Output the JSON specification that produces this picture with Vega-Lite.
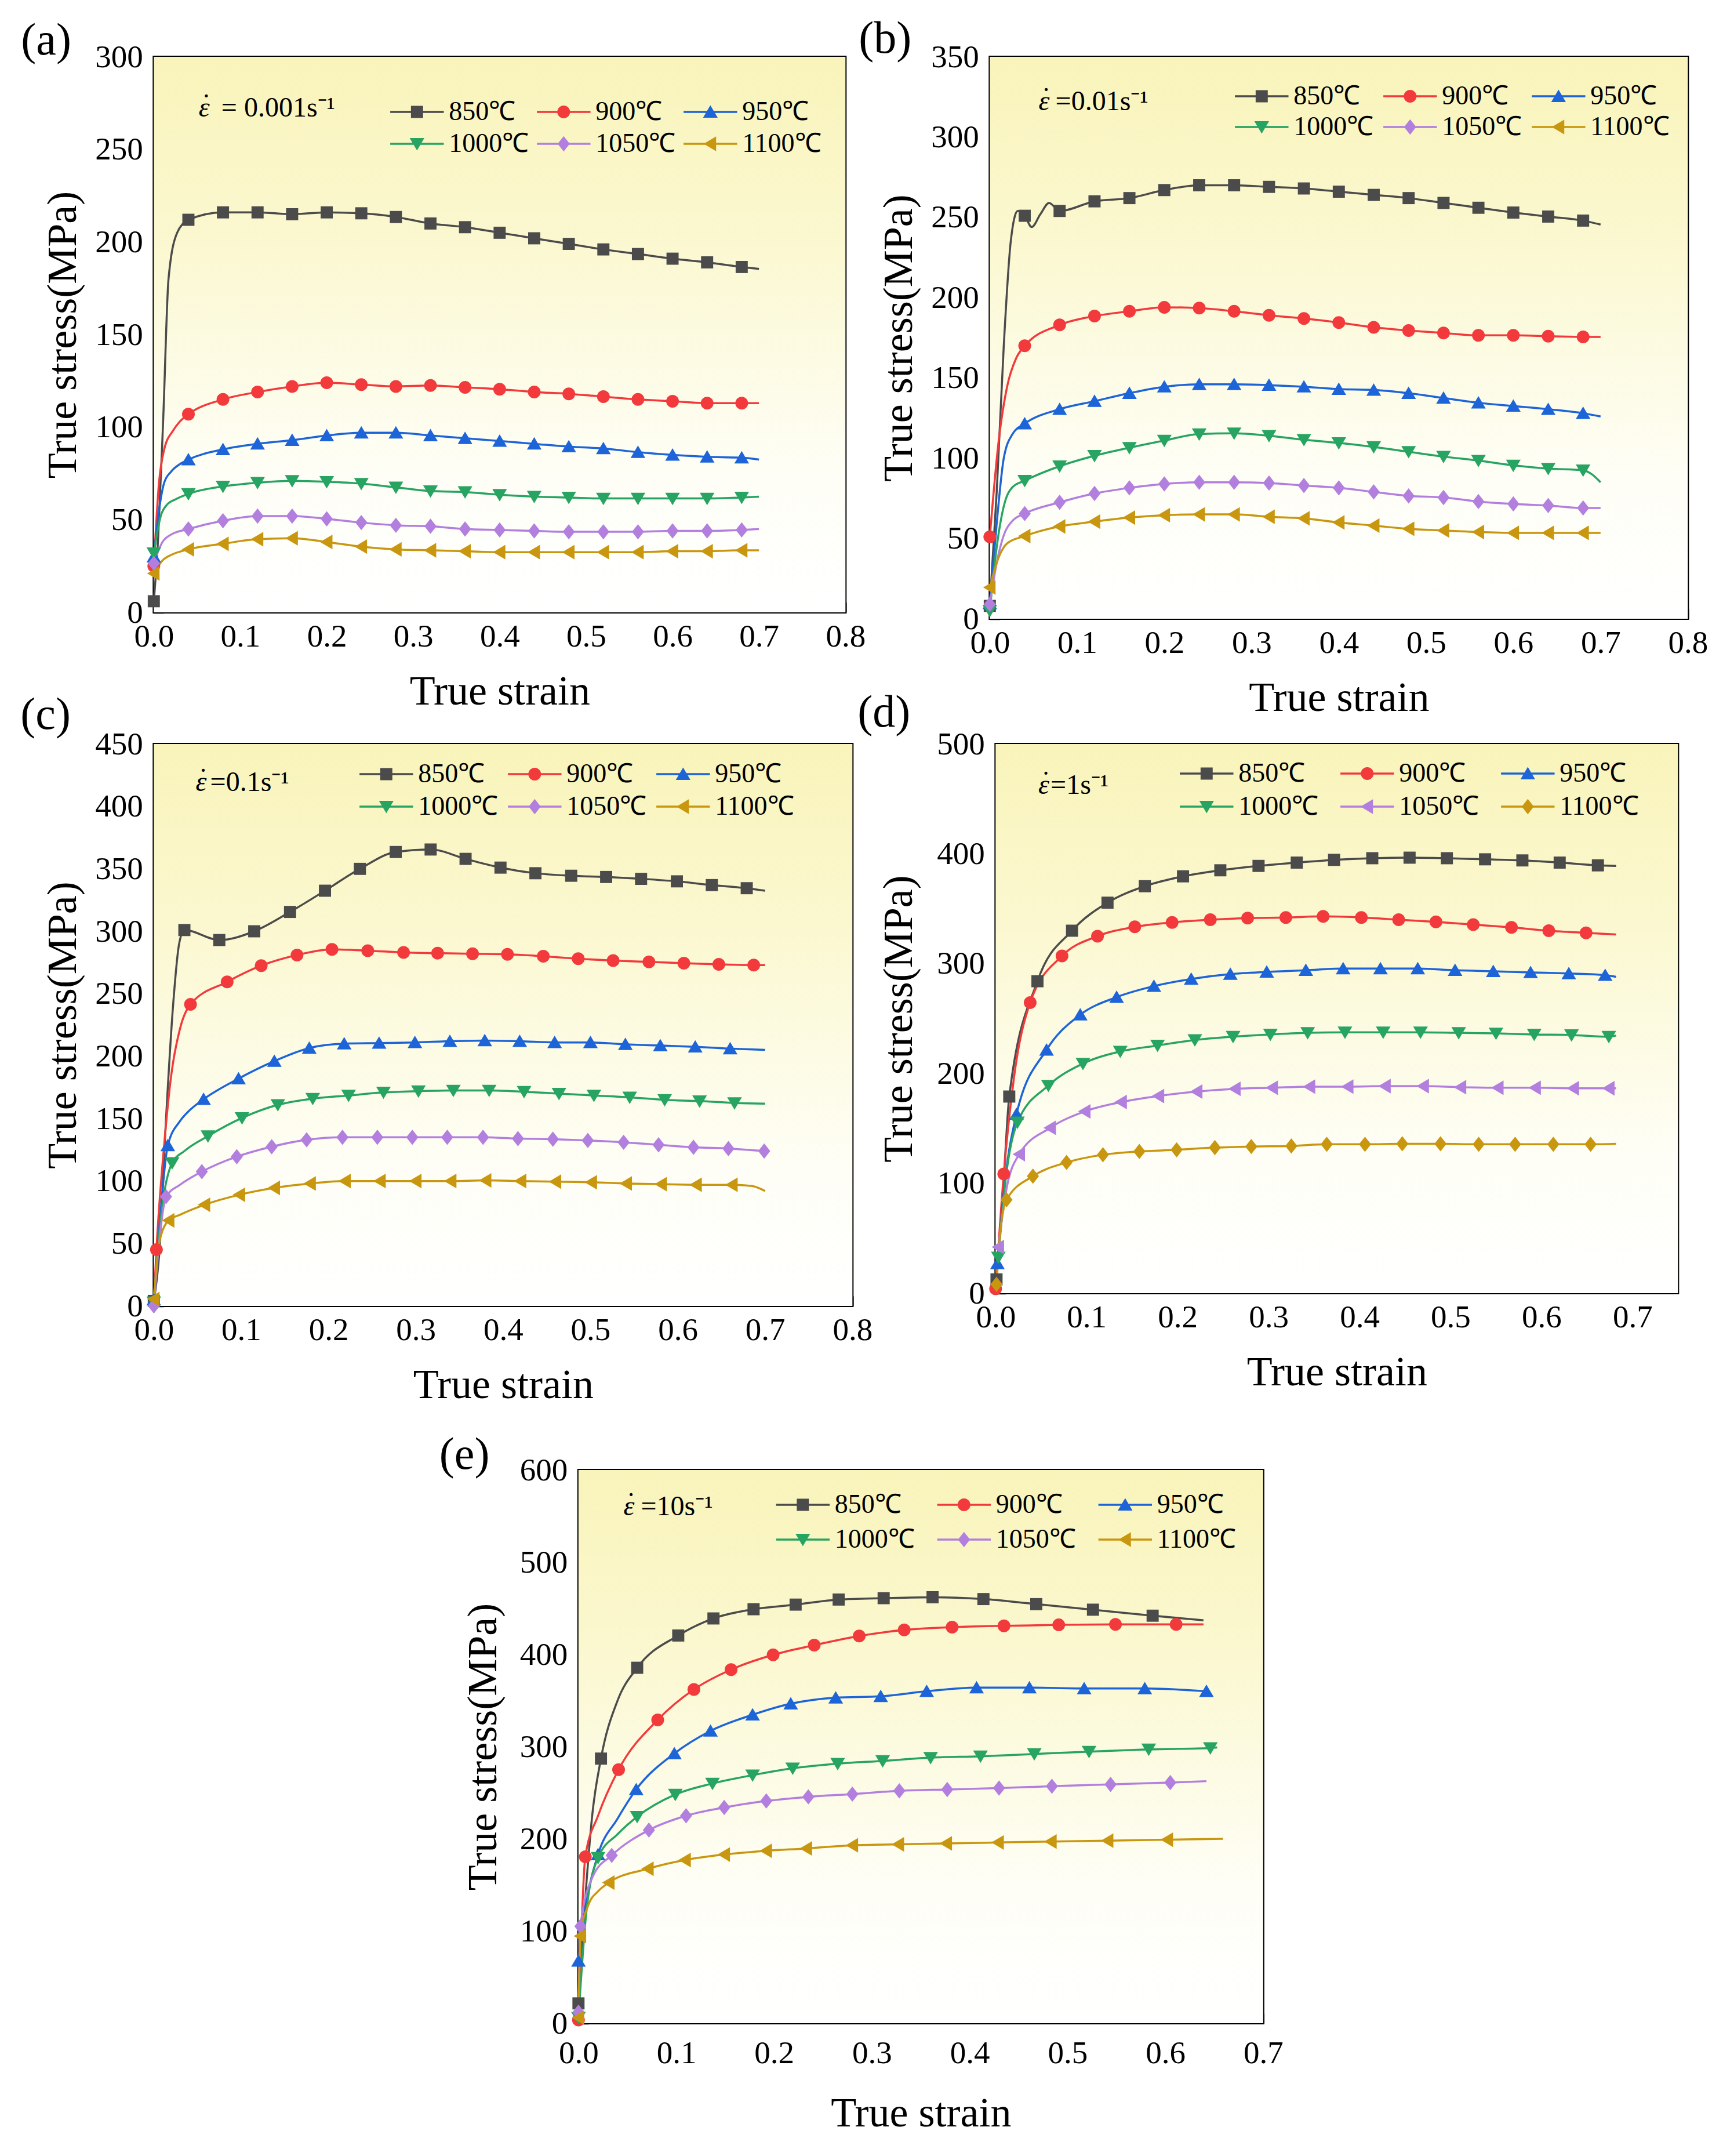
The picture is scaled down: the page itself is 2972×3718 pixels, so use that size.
{
  "$schema": "https://vega.github.io/schema/vega-lite/v6.json",
  "background": "white",
  "padding": {"left": 33, "top": 27, "right": 10, "bottom": 10},
  "config": {
    "font": "Liberation Serif",
    "view": {"stroke": "#000000", "strokeWidth": 4},
    "axis": {
      "grid": false, "domain": false, "tickColor": "#000000", "tickWidth": 3.5, "tickSize": -17,
      "labelFont": "Liberation Serif", "labelFontSize": 55, "labelColor": "#000000",
      "labelFlush": false, "labelOverlap": false,
      "titleFont": "Liberation Serif", "titleFontSize": 72, "titleFontWeight": "normal", "titleColor": "#000000"
    },
    "axisX": {"labelPadding": 32, "titlePadding": 32},
    "axisY": {"labelPadding": 36, "titlePadding": 18},
    "legend": {
      "direction": "horizontal",
      "labelFont": "Liberation Serif", "labelFontSize": 46, "labelColor": "#000000", "labelLimit": 500,
      "symbolSize": 484, "symbolOffset": 35, "labelOffset": 32, "padding": 0, "gridAlign": "all",
      "symbolStrokeWidth": 0, "labelBaseline": "middle"
    },
    "title": {"font": "Liberation Serif", "fontSize": 78, "fontWeight": "normal", "color": "#000000", "anchor": "start", "frame": "group"},
    "text": {"font": "Liberation Serif", "color": "#000000", "fontSize": 48}
  },
  "datasets": {
    "a_p": [
      {"T":"850℃","x":0,"y":6},{"T":"850℃","x":0.04,"y":212},{"T":"850℃","x":0.08,"y":216},{"T":"850℃","x":0.12,"y":216},{"T":"850℃","x":0.16,"y":215},{"T":"850℃","x":0.2,"y":216},{"T":"850℃","x":0.24,"y":215.5},{"T":"850℃","x":0.28,"y":213.5},{"T":"850℃","x":0.32,"y":210},{"T":"850℃","x":0.36,"y":208},{"T":"850℃","x":0.4,"y":205},{"T":"850℃","x":0.44,"y":202},{"T":"850℃","x":0.48,"y":199},{"T":"850℃","x":0.52,"y":196},{"T":"850℃","x":0.56,"y":193.5},{"T":"850℃","x":0.6,"y":191},{"T":"850℃","x":0.64,"y":189},{"T":"850℃","x":0.68,"y":186.5},
      {"T":"900℃","x":0,"y":25},{"T":"900℃","x":0.04,"y":107},{"T":"900℃","x":0.08,"y":115},{"T":"900℃","x":0.12,"y":119},{"T":"900℃","x":0.16,"y":122},{"T":"900℃","x":0.2,"y":124},{"T":"900℃","x":0.24,"y":123},{"T":"900℃","x":0.28,"y":122},{"T":"900℃","x":0.32,"y":122.5},{"T":"900℃","x":0.36,"y":121.5},{"T":"900℃","x":0.4,"y":120.5},{"T":"900℃","x":0.44,"y":119},{"T":"900℃","x":0.48,"y":118},{"T":"900℃","x":0.52,"y":116.5},{"T":"900℃","x":0.56,"y":115},{"T":"900℃","x":0.6,"y":114},{"T":"900℃","x":0.64,"y":113},{"T":"900℃","x":0.68,"y":113},
      {"T":"950℃","x":0,"y":30},{"T":"950℃","x":0.04,"y":82.5},{"T":"950℃","x":0.08,"y":88},{"T":"950℃","x":0.12,"y":91},{"T":"950℃","x":0.16,"y":93},{"T":"950℃","x":0.2,"y":95.5},{"T":"950℃","x":0.24,"y":97},{"T":"950℃","x":0.28,"y":97},{"T":"950℃","x":0.32,"y":95.5},{"T":"950℃","x":0.36,"y":94},{"T":"950℃","x":0.4,"y":92.5},{"T":"950℃","x":0.44,"y":91},{"T":"950℃","x":0.48,"y":89.5},{"T":"950℃","x":0.52,"y":88.5},{"T":"950℃","x":0.56,"y":86.5},{"T":"950℃","x":0.6,"y":85},{"T":"950℃","x":0.64,"y":84},{"T":"950℃","x":0.68,"y":83.5},
      {"T":"1000℃","x":0,"y":32},{"T":"1000℃","x":0.04,"y":64},{"T":"1000℃","x":0.08,"y":68},{"T":"1000℃","x":0.12,"y":70},{"T":"1000℃","x":0.16,"y":71},{"T":"1000℃","x":0.2,"y":70.5},{"T":"1000℃","x":0.24,"y":69.5},{"T":"1000℃","x":0.28,"y":67.5},{"T":"1000℃","x":0.32,"y":65.5},{"T":"1000℃","x":0.36,"y":65},{"T":"1000℃","x":0.4,"y":63.5},{"T":"1000℃","x":0.44,"y":62.5},{"T":"1000℃","x":0.48,"y":62},{"T":"1000℃","x":0.52,"y":61.5},{"T":"1000℃","x":0.56,"y":61.5},{"T":"1000℃","x":0.6,"y":61.5},{"T":"1000℃","x":0.64,"y":61.5},{"T":"1000℃","x":0.68,"y":62},
      {"T":"1050℃","x":0,"y":26.5},{"T":"1050℃","x":0.04,"y":45},{"T":"1050℃","x":0.08,"y":49.5},{"T":"1050℃","x":0.12,"y":52},{"T":"1050℃","x":0.16,"y":52},{"T":"1050℃","x":0.2,"y":50.5},{"T":"1050℃","x":0.24,"y":48.5},{"T":"1050℃","x":0.28,"y":47},{"T":"1050℃","x":0.32,"y":46.5},{"T":"1050℃","x":0.36,"y":45},{"T":"1050℃","x":0.4,"y":44.5},{"T":"1050℃","x":0.44,"y":44},{"T":"1050℃","x":0.48,"y":43.5},{"T":"1050℃","x":0.52,"y":43.5},{"T":"1050℃","x":0.56,"y":43.5},{"T":"1050℃","x":0.6,"y":44},{"T":"1050℃","x":0.64,"y":44},{"T":"1050℃","x":0.68,"y":44.5},
      {"T":"1100℃","x":0,"y":21},{"T":"1100℃","x":0.04,"y":34},{"T":"1100℃","x":0.08,"y":37},{"T":"1100℃","x":0.12,"y":39.5},{"T":"1100℃","x":0.16,"y":40},{"T":"1100℃","x":0.2,"y":38},{"T":"1100℃","x":0.24,"y":35.5},{"T":"1100℃","x":0.28,"y":34},{"T":"1100℃","x":0.32,"y":33.5},{"T":"1100℃","x":0.36,"y":33},{"T":"1100℃","x":0.4,"y":32.5},{"T":"1100℃","x":0.44,"y":32.5},{"T":"1100℃","x":0.48,"y":32.5},{"T":"1100℃","x":0.52,"y":32.5},{"T":"1100℃","x":0.56,"y":32.5},{"T":"1100℃","x":0.6,"y":33},{"T":"1100℃","x":0.64,"y":33},{"T":"1100℃","x":0.68,"y":33.5}
    ],
    "a_l": [
      {"T":"850℃","x":0,"y":6},{"T":"850℃","x":0.005,"y":40},{"T":"850℃","x":0.011,"y":106},{"T":"850℃","x":0.017,"y":180},{"T":"850℃","x":0.027,"y":205},{"T":"850℃","x":0.04,"y":212},{"T":"850℃","x":0.08,"y":216},{"T":"850℃","x":0.12,"y":216},{"T":"850℃","x":0.16,"y":215},{"T":"850℃","x":0.2,"y":216},{"T":"850℃","x":0.24,"y":215.5},{"T":"850℃","x":0.28,"y":213.5},{"T":"850℃","x":0.32,"y":210},{"T":"850℃","x":0.36,"y":208},{"T":"850℃","x":0.4,"y":205},{"T":"850℃","x":0.44,"y":202},{"T":"850℃","x":0.48,"y":199},{"T":"850℃","x":0.52,"y":196},{"T":"850℃","x":0.56,"y":193.5},{"T":"850℃","x":0.6,"y":191},{"T":"850℃","x":0.64,"y":189},{"T":"850℃","x":0.68,"y":186.5},{"T":"850℃","x":0.7,"y":185.5},
      {"T":"900℃","x":0,"y":25},{"T":"900℃","x":0.006,"y":70},{"T":"900℃","x":0.012,"y":88},{"T":"900℃","x":0.022,"y":98},{"T":"900℃","x":0.03,"y":103},{"T":"900℃","x":0.04,"y":107},{"T":"900℃","x":0.08,"y":115},{"T":"900℃","x":0.12,"y":119},{"T":"900℃","x":0.16,"y":122},{"T":"900℃","x":0.2,"y":124},{"T":"900℃","x":0.24,"y":123},{"T":"900℃","x":0.28,"y":122},{"T":"900℃","x":0.32,"y":122.5},{"T":"900℃","x":0.36,"y":121.5},{"T":"900℃","x":0.4,"y":120.5},{"T":"900℃","x":0.44,"y":119},{"T":"900℃","x":0.48,"y":118},{"T":"900℃","x":0.52,"y":116.5},{"T":"900℃","x":0.56,"y":115},{"T":"900℃","x":0.6,"y":114},{"T":"900℃","x":0.64,"y":113},{"T":"900℃","x":0.68,"y":113},{"T":"900℃","x":0.7,"y":113},
      {"T":"950℃","x":0,"y":30},{"T":"950℃","x":0.006,"y":55},{"T":"950℃","x":0.012,"y":70},{"T":"950℃","x":0.02,"y":76},{"T":"950℃","x":0.03,"y":80},{"T":"950℃","x":0.04,"y":82.5},{"T":"950℃","x":0.08,"y":88},{"T":"950℃","x":0.12,"y":91},{"T":"950℃","x":0.16,"y":93},{"T":"950℃","x":0.2,"y":95.5},{"T":"950℃","x":0.24,"y":97},{"T":"950℃","x":0.28,"y":97},{"T":"950℃","x":0.32,"y":95.5},{"T":"950℃","x":0.36,"y":94},{"T":"950℃","x":0.4,"y":92.5},{"T":"950℃","x":0.44,"y":91},{"T":"950℃","x":0.48,"y":89.5},{"T":"950℃","x":0.52,"y":88.5},{"T":"950℃","x":0.56,"y":86.5},{"T":"950℃","x":0.6,"y":85},{"T":"950℃","x":0.64,"y":84},{"T":"950℃","x":0.68,"y":83.5},{"T":"950℃","x":0.7,"y":82.5},
      {"T":"1000℃","x":0,"y":32},{"T":"1000℃","x":0.008,"y":52},{"T":"1000℃","x":0.015,"y":58},{"T":"1000℃","x":0.025,"y":61},{"T":"1000℃","x":0.04,"y":64},{"T":"1000℃","x":0.08,"y":68},{"T":"1000℃","x":0.12,"y":70},{"T":"1000℃","x":0.16,"y":71},{"T":"1000℃","x":0.2,"y":70.5},{"T":"1000℃","x":0.24,"y":69.5},{"T":"1000℃","x":0.28,"y":67.5},{"T":"1000℃","x":0.32,"y":65.5},{"T":"1000℃","x":0.36,"y":65},{"T":"1000℃","x":0.4,"y":63.5},{"T":"1000℃","x":0.44,"y":62.5},{"T":"1000℃","x":0.48,"y":62},{"T":"1000℃","x":0.52,"y":61.5},{"T":"1000℃","x":0.56,"y":61.5},{"T":"1000℃","x":0.6,"y":61.5},{"T":"1000℃","x":0.64,"y":61.5},{"T":"1000℃","x":0.68,"y":62},{"T":"1000℃","x":0.7,"y":62.5},
      {"T":"1050℃","x":0,"y":26.5},{"T":"1050℃","x":0.01,"y":38},{"T":"1050℃","x":0.02,"y":42},{"T":"1050℃","x":0.04,"y":45},{"T":"1050℃","x":0.08,"y":49.5},{"T":"1050℃","x":0.12,"y":52},{"T":"1050℃","x":0.16,"y":52},{"T":"1050℃","x":0.2,"y":50.5},{"T":"1050℃","x":0.24,"y":48.5},{"T":"1050℃","x":0.28,"y":47},{"T":"1050℃","x":0.32,"y":46.5},{"T":"1050℃","x":0.36,"y":45},{"T":"1050℃","x":0.4,"y":44.5},{"T":"1050℃","x":0.44,"y":44},{"T":"1050℃","x":0.48,"y":43.5},{"T":"1050℃","x":0.52,"y":43.5},{"T":"1050℃","x":0.56,"y":43.5},{"T":"1050℃","x":0.6,"y":44},{"T":"1050℃","x":0.64,"y":44},{"T":"1050℃","x":0.68,"y":44.5},{"T":"1050℃","x":0.7,"y":45},
      {"T":"1100℃","x":0,"y":21},{"T":"1100℃","x":0.01,"y":28},{"T":"1100℃","x":0.02,"y":31},{"T":"1100℃","x":0.04,"y":34},{"T":"1100℃","x":0.08,"y":37},{"T":"1100℃","x":0.12,"y":39.5},{"T":"1100℃","x":0.16,"y":40},{"T":"1100℃","x":0.2,"y":38},{"T":"1100℃","x":0.24,"y":35.5},{"T":"1100℃","x":0.28,"y":34},{"T":"1100℃","x":0.32,"y":33.5},{"T":"1100℃","x":0.36,"y":33},{"T":"1100℃","x":0.4,"y":32.5},{"T":"1100℃","x":0.44,"y":32.5},{"T":"1100℃","x":0.48,"y":32.5},{"T":"1100℃","x":0.52,"y":32.5},{"T":"1100℃","x":0.56,"y":32.5},{"T":"1100℃","x":0.6,"y":33},{"T":"1100℃","x":0.64,"y":33},{"T":"1100℃","x":0.68,"y":33.5},{"T":"1100℃","x":0.7,"y":33.5}
    ],
    "b_p": [
      {"T":"850℃","x":0,"y":8},{"T":"850℃","x":0.04,"y":251},{"T":"850℃","x":0.08,"y":254},{"T":"850℃","x":0.12,"y":260},{"T":"850℃","x":0.16,"y":262},{"T":"850℃","x":0.2,"y":267},{"T":"850℃","x":0.24,"y":270},{"T":"850℃","x":0.28,"y":270},{"T":"850℃","x":0.32,"y":269},{"T":"850℃","x":0.36,"y":268},{"T":"850℃","x":0.4,"y":266},{"T":"850℃","x":0.44,"y":264},{"T":"850℃","x":0.48,"y":262},{"T":"850℃","x":0.52,"y":259},{"T":"850℃","x":0.56,"y":256},{"T":"850℃","x":0.6,"y":253},{"T":"850℃","x":0.64,"y":250.5},{"T":"850℃","x":0.68,"y":248},
      {"T":"900℃","x":0,"y":51},{"T":"900℃","x":0.04,"y":170},{"T":"900℃","x":0.08,"y":183},{"T":"900℃","x":0.12,"y":188.5},{"T":"900℃","x":0.16,"y":191.5},{"T":"900℃","x":0.2,"y":194},{"T":"900℃","x":0.24,"y":193.5},{"T":"900℃","x":0.28,"y":191.5},{"T":"900℃","x":0.32,"y":189},{"T":"900℃","x":0.36,"y":187},{"T":"900℃","x":0.4,"y":184.5},{"T":"900℃","x":0.44,"y":181.5},{"T":"900℃","x":0.48,"y":179.5},{"T":"900℃","x":0.52,"y":178},{"T":"900℃","x":0.56,"y":176.5},{"T":"900℃","x":0.6,"y":176.5},{"T":"900℃","x":0.64,"y":176},{"T":"900℃","x":0.68,"y":175.5},
      {"T":"950℃","x":0,"y":9.5},{"T":"950℃","x":0.04,"y":121.5},{"T":"950℃","x":0.08,"y":130.5},{"T":"950℃","x":0.12,"y":135.5},{"T":"950℃","x":0.16,"y":140.5},{"T":"950℃","x":0.2,"y":144.5},{"T":"950℃","x":0.24,"y":146},{"T":"950℃","x":0.28,"y":146},{"T":"950℃","x":0.32,"y":145.5},{"T":"950℃","x":0.36,"y":144.5},{"T":"950℃","x":0.4,"y":143},{"T":"950℃","x":0.44,"y":142.5},{"T":"950℃","x":0.48,"y":140.5},{"T":"950℃","x":0.52,"y":137.5},{"T":"950℃","x":0.56,"y":134.5},{"T":"950℃","x":0.6,"y":132.5},{"T":"950℃","x":0.64,"y":130.5},{"T":"950℃","x":0.68,"y":128},
      {"T":"1000℃","x":0,"y":5},{"T":"1000℃","x":0.04,"y":86},{"T":"1000℃","x":0.08,"y":95},{"T":"1000℃","x":0.12,"y":101.5},{"T":"1000℃","x":0.16,"y":106.5},{"T":"1000℃","x":0.2,"y":111},{"T":"1000℃","x":0.24,"y":115},{"T":"1000℃","x":0.28,"y":115.5},{"T":"1000℃","x":0.32,"y":114},{"T":"1000℃","x":0.36,"y":111.5},{"T":"1000℃","x":0.4,"y":109.5},{"T":"1000℃","x":0.44,"y":107},{"T":"1000℃","x":0.48,"y":104},{"T":"1000℃","x":0.52,"y":101},{"T":"1000℃","x":0.56,"y":98.5},{"T":"1000℃","x":0.6,"y":95.5},{"T":"1000℃","x":0.64,"y":93.5},{"T":"1000℃","x":0.68,"y":92.5},
      {"T":"1050℃","x":0,"y":9},{"T":"1050℃","x":0.04,"y":65.5},{"T":"1050℃","x":0.08,"y":72.5},{"T":"1050℃","x":0.12,"y":78},{"T":"1050℃","x":0.16,"y":81.5},{"T":"1050℃","x":0.2,"y":84},{"T":"1050℃","x":0.24,"y":85},{"T":"1050℃","x":0.28,"y":85},{"T":"1050℃","x":0.32,"y":84.5},{"T":"1050℃","x":0.36,"y":83},{"T":"1050℃","x":0.4,"y":81.5},{"T":"1050℃","x":0.44,"y":79},{"T":"1050℃","x":0.48,"y":76.5},{"T":"1050℃","x":0.52,"y":75.5},{"T":"1050℃","x":0.56,"y":73},{"T":"1050℃","x":0.6,"y":71.5},{"T":"1050℃","x":0.64,"y":70.5},{"T":"1050℃","x":0.68,"y":69},
      {"T":"1100℃","x":0,"y":19.5},{"T":"1100℃","x":0.04,"y":51.5},{"T":"1100℃","x":0.08,"y":57.5},{"T":"1100℃","x":0.12,"y":60.5},{"T":"1100℃","x":0.16,"y":63},{"T":"1100℃","x":0.2,"y":64.5},{"T":"1100℃","x":0.24,"y":65},{"T":"1100℃","x":0.28,"y":65},{"T":"1100℃","x":0.32,"y":63.5},{"T":"1100℃","x":0.36,"y":62.5},{"T":"1100℃","x":0.4,"y":60},{"T":"1100℃","x":0.44,"y":58},{"T":"1100℃","x":0.48,"y":56},{"T":"1100℃","x":0.52,"y":55},{"T":"1100℃","x":0.56,"y":54},{"T":"1100℃","x":0.6,"y":53.5},{"T":"1100℃","x":0.64,"y":53.5},{"T":"1100℃","x":0.68,"y":53.5}
    ],
    "b_l": [
      {"T":"850℃","x":0,"y":8},{"T":"850℃","x":0.008,"y":80},{"T":"850℃","x":0.016,"y":170},{"T":"850℃","x":0.024,"y":235},{"T":"850℃","x":0.032,"y":254},{"T":"850℃","x":0.04,"y":251},{"T":"850℃","x":0.048,"y":244},{"T":"850℃","x":0.058,"y":252},{"T":"850℃","x":0.068,"y":259},{"T":"850℃","x":0.08,"y":254},{"T":"850℃","x":0.12,"y":260},{"T":"850℃","x":0.16,"y":262},{"T":"850℃","x":0.2,"y":267},{"T":"850℃","x":0.24,"y":270},{"T":"850℃","x":0.28,"y":270},{"T":"850℃","x":0.32,"y":269},{"T":"850℃","x":0.36,"y":268},{"T":"850℃","x":0.4,"y":266},{"T":"850℃","x":0.44,"y":264},{"T":"850℃","x":0.48,"y":262},{"T":"850℃","x":0.52,"y":259},{"T":"850℃","x":0.56,"y":256},{"T":"850℃","x":0.6,"y":253},{"T":"850℃","x":0.64,"y":250.5},{"T":"850℃","x":0.68,"y":248},{"T":"850℃","x":0.7,"y":245.5},
      {"T":"900℃","x":0,"y":51},{"T":"900℃","x":0.01,"y":110},{"T":"900℃","x":0.02,"y":145},{"T":"900℃","x":0.03,"y":162},{"T":"900℃","x":0.04,"y":170},{"T":"900℃","x":0.08,"y":183},{"T":"900℃","x":0.12,"y":188.5},{"T":"900℃","x":0.16,"y":191.5},{"T":"900℃","x":0.2,"y":194},{"T":"900℃","x":0.24,"y":193.5},{"T":"900℃","x":0.28,"y":191.5},{"T":"900℃","x":0.32,"y":189},{"T":"900℃","x":0.36,"y":187},{"T":"900℃","x":0.4,"y":184.5},{"T":"900℃","x":0.44,"y":181.5},{"T":"900℃","x":0.48,"y":179.5},{"T":"900℃","x":0.52,"y":178},{"T":"900℃","x":0.56,"y":176.5},{"T":"900℃","x":0.6,"y":176.5},{"T":"900℃","x":0.64,"y":176},{"T":"900℃","x":0.68,"y":175.5},{"T":"900℃","x":0.7,"y":175.5},
      {"T":"950℃","x":0,"y":9.5},{"T":"950℃","x":0.008,"y":60},{"T":"950℃","x":0.016,"y":100},{"T":"950℃","x":0.026,"y":115},{"T":"950℃","x":0.04,"y":121.5},{"T":"950℃","x":0.08,"y":130.5},{"T":"950℃","x":0.12,"y":135.5},{"T":"950℃","x":0.16,"y":140.5},{"T":"950℃","x":0.2,"y":144.5},{"T":"950℃","x":0.24,"y":146},{"T":"950℃","x":0.28,"y":146},{"T":"950℃","x":0.32,"y":145.5},{"T":"950℃","x":0.36,"y":144.5},{"T":"950℃","x":0.4,"y":143},{"T":"950℃","x":0.44,"y":142.5},{"T":"950℃","x":0.48,"y":140.5},{"T":"950℃","x":0.52,"y":137.5},{"T":"950℃","x":0.56,"y":134.5},{"T":"950℃","x":0.6,"y":132.5},{"T":"950℃","x":0.64,"y":130.5},{"T":"950℃","x":0.68,"y":128},{"T":"950℃","x":0.7,"y":126},
      {"T":"1000℃","x":0,"y":5},{"T":"1000℃","x":0.008,"y":45},{"T":"1000℃","x":0.016,"y":70},{"T":"1000℃","x":0.026,"y":82},{"T":"1000℃","x":0.04,"y":86},{"T":"1000℃","x":0.08,"y":95},{"T":"1000℃","x":0.12,"y":101.5},{"T":"1000℃","x":0.16,"y":106.5},{"T":"1000℃","x":0.2,"y":111},{"T":"1000℃","x":0.24,"y":115},{"T":"1000℃","x":0.28,"y":115.5},{"T":"1000℃","x":0.32,"y":114},{"T":"1000℃","x":0.36,"y":111.5},{"T":"1000℃","x":0.4,"y":109.5},{"T":"1000℃","x":0.44,"y":107},{"T":"1000℃","x":0.48,"y":104},{"T":"1000℃","x":0.52,"y":101},{"T":"1000℃","x":0.56,"y":98.5},{"T":"1000℃","x":0.6,"y":95.5},{"T":"1000℃","x":0.64,"y":93.5},{"T":"1000℃","x":0.68,"y":92.5},{"T":"1000℃","x":0.69,"y":90},{"T":"1000℃","x":0.7,"y":85},
      {"T":"1050℃","x":0,"y":9},{"T":"1050℃","x":0.008,"y":35},{"T":"1050℃","x":0.016,"y":52},{"T":"1050℃","x":0.026,"y":61},{"T":"1050℃","x":0.04,"y":65.5},{"T":"1050℃","x":0.08,"y":72.5},{"T":"1050℃","x":0.12,"y":78},{"T":"1050℃","x":0.16,"y":81.5},{"T":"1050℃","x":0.2,"y":84},{"T":"1050℃","x":0.24,"y":85},{"T":"1050℃","x":0.28,"y":85},{"T":"1050℃","x":0.32,"y":84.5},{"T":"1050℃","x":0.36,"y":83},{"T":"1050℃","x":0.4,"y":81.5},{"T":"1050℃","x":0.44,"y":79},{"T":"1050℃","x":0.48,"y":76.5},{"T":"1050℃","x":0.52,"y":75.5},{"T":"1050℃","x":0.56,"y":73},{"T":"1050℃","x":0.6,"y":71.5},{"T":"1050℃","x":0.64,"y":70.5},{"T":"1050℃","x":0.68,"y":69},{"T":"1050℃","x":0.7,"y":69},
      {"T":"1100℃","x":0,"y":19.5},{"T":"1100℃","x":0.01,"y":38},{"T":"1100℃","x":0.02,"y":47},{"T":"1100℃","x":0.04,"y":51.5},{"T":"1100℃","x":0.08,"y":57.5},{"T":"1100℃","x":0.12,"y":60.5},{"T":"1100℃","x":0.16,"y":63},{"T":"1100℃","x":0.2,"y":64.5},{"T":"1100℃","x":0.24,"y":65},{"T":"1100℃","x":0.28,"y":65},{"T":"1100℃","x":0.32,"y":63.5},{"T":"1100℃","x":0.36,"y":62.5},{"T":"1100℃","x":0.4,"y":60},{"T":"1100℃","x":0.44,"y":58},{"T":"1100℃","x":0.48,"y":56},{"T":"1100℃","x":0.52,"y":55},{"T":"1100℃","x":0.56,"y":54},{"T":"1100℃","x":0.6,"y":53.5},{"T":"1100℃","x":0.64,"y":53.5},{"T":"1100℃","x":0.68,"y":53.5},{"T":"1100℃","x":0.7,"y":53.5}
    ],
    "c_p": [
      {"T":"850℃","x":0,"y":4},{"T":"850℃","x":0.035,"y":301},{"T":"850℃","x":0.075,"y":293},{"T":"850℃","x":0.115,"y":300},{"T":"850℃","x":0.156,"y":315.5},{"T":"850℃","x":0.196,"y":332.5},{"T":"850℃","x":0.236,"y":350},{"T":"850℃","x":0.277,"y":363.5},{"T":"850℃","x":0.317,"y":365.5},{"T":"850℃","x":0.357,"y":358},{"T":"850℃","x":0.397,"y":351},{"T":"850℃","x":0.437,"y":346.5},{"T":"850℃","x":0.478,"y":344.5},{"T":"850℃","x":0.518,"y":343.5},{"T":"850℃","x":0.558,"y":342},{"T":"850℃","x":0.599,"y":340},{"T":"850℃","x":0.639,"y":337},{"T":"850℃","x":0.679,"y":334.5},
      {"T":"900℃","x":0.003,"y":45},{"T":"900℃","x":0.042,"y":241.5},{"T":"900℃","x":0.084,"y":259.5},{"T":"900℃","x":0.123,"y":272.5},{"T":"900℃","x":0.164,"y":281},{"T":"900℃","x":0.204,"y":285.5},{"T":"900℃","x":0.245,"y":284.5},{"T":"900℃","x":0.286,"y":283},{"T":"900℃","x":0.325,"y":282.5},{"T":"900℃","x":0.365,"y":282},{"T":"900℃","x":0.405,"y":281.5},{"T":"900℃","x":0.446,"y":280},{"T":"900℃","x":0.486,"y":278},{"T":"900℃","x":0.526,"y":276.5},{"T":"900℃","x":0.567,"y":275.5},{"T":"900℃","x":0.607,"y":274.5},{"T":"900℃","x":0.647,"y":273.5},{"T":"900℃","x":0.687,"y":273},
      {"T":"950℃","x":0,"y":5},{"T":"950℃","x":0.016,"y":128.5},{"T":"950℃","x":0.057,"y":165.5},{"T":"950℃","x":0.097,"y":182},{"T":"950℃","x":0.138,"y":196},{"T":"950℃","x":0.178,"y":206.5},{"T":"950℃","x":0.218,"y":210},{"T":"950℃","x":0.258,"y":210.5},{"T":"950℃","x":0.299,"y":211},{"T":"950℃","x":0.339,"y":212},{"T":"950℃","x":0.379,"y":212.5},{"T":"950℃","x":0.419,"y":212},{"T":"950℃","x":0.459,"y":211},{"T":"950℃","x":0.5,"y":211},{"T":"950℃","x":0.54,"y":209.5},{"T":"950℃","x":0.58,"y":208.5},{"T":"950℃","x":0.62,"y":207.5},{"T":"950℃","x":0.66,"y":206},
      {"T":"1000℃","x":0,"y":3},{"T":"1000℃","x":0.021,"y":114.5},{"T":"1000℃","x":0.062,"y":136},{"T":"1000℃","x":0.101,"y":150.5},{"T":"1000℃","x":0.142,"y":161},{"T":"1000℃","x":0.182,"y":166},{"T":"1000℃","x":0.223,"y":168.5},{"T":"1000℃","x":0.263,"y":171},{"T":"1000℃","x":0.303,"y":172},{"T":"1000℃","x":0.343,"y":172.5},{"T":"1000℃","x":0.384,"y":172.5},{"T":"1000℃","x":0.424,"y":171.5},{"T":"1000℃","x":0.464,"y":170},{"T":"1000℃","x":0.504,"y":168.5},{"T":"1000℃","x":0.545,"y":167},{"T":"1000℃","x":0.585,"y":165},{"T":"1000℃","x":0.625,"y":164},{"T":"1000℃","x":0.665,"y":162.5},
      {"T":"1050℃","x":0,"y":0},{"T":"1050℃","x":0.014,"y":87.5},{"T":"1050℃","x":0.055,"y":107.5},{"T":"1050℃","x":0.095,"y":119.5},{"T":"1050℃","x":0.135,"y":127.5},{"T":"1050℃","x":0.175,"y":133},{"T":"1050℃","x":0.216,"y":135},{"T":"1050℃","x":0.256,"y":135},{"T":"1050℃","x":0.296,"y":135},{"T":"1050℃","x":0.336,"y":135},{"T":"1050℃","x":0.377,"y":135},{"T":"1050℃","x":0.417,"y":134},{"T":"1050℃","x":0.457,"y":133.5},{"T":"1050℃","x":0.497,"y":132.5},{"T":"1050℃","x":0.538,"y":131},{"T":"1050℃","x":0.578,"y":129},{"T":"1050℃","x":0.618,"y":127},{"T":"1050℃","x":0.658,"y":126},{"T":"1050℃","x":0.699,"y":124},
      {"T":"1100℃","x":0,"y":5.5},{"T":"1100℃","x":0.017,"y":68.5},{"T":"1100℃","x":0.058,"y":81},{"T":"1100℃","x":0.098,"y":89},{"T":"1100℃","x":0.138,"y":94.5},{"T":"1100℃","x":0.179,"y":98},{"T":"1100℃","x":0.219,"y":100},{"T":"1100℃","x":0.259,"y":100},{"T":"1100℃","x":0.3,"y":100},{"T":"1100℃","x":0.34,"y":100},{"T":"1100℃","x":0.38,"y":100.5},{"T":"1100℃","x":0.42,"y":100},{"T":"1100℃","x":0.46,"y":99.5},{"T":"1100℃","x":0.501,"y":99},{"T":"1100℃","x":0.541,"y":98},{"T":"1100℃","x":0.581,"y":97.5},{"T":"1100℃","x":0.621,"y":97},{"T":"1100℃","x":0.662,"y":97}
    ],
    "c_l": [
      {"T":"850℃","x":0,"y":4},{"T":"850℃","x":0.006,"y":40},{"T":"850℃","x":0.014,"y":150},{"T":"850℃","x":0.022,"y":240},{"T":"850℃","x":0.029,"y":290},{"T":"850℃","x":0.035,"y":301},{"T":"850℃","x":0.075,"y":293},{"T":"850℃","x":0.115,"y":300},{"T":"850℃","x":0.156,"y":315.5},{"T":"850℃","x":0.196,"y":332.5},{"T":"850℃","x":0.236,"y":350},{"T":"850℃","x":0.277,"y":363.5},{"T":"850℃","x":0.317,"y":365.5},{"T":"850℃","x":0.357,"y":358},{"T":"850℃","x":0.397,"y":351},{"T":"850℃","x":0.437,"y":346.5},{"T":"850℃","x":0.478,"y":344.5},{"T":"850℃","x":0.518,"y":343.5},{"T":"850℃","x":0.558,"y":342},{"T":"850℃","x":0.599,"y":340},{"T":"850℃","x":0.639,"y":337},{"T":"850℃","x":0.679,"y":334.5},{"T":"850℃","x":0.7,"y":332.5},
      {"T":"900℃","x":0,"y":3},{"T":"900℃","x":0.003,"y":45},{"T":"900℃","x":0.012,"y":130},{"T":"900℃","x":0.02,"y":185},{"T":"900℃","x":0.03,"y":222},{"T":"900℃","x":0.042,"y":241.5},{"T":"900℃","x":0.084,"y":259.5},{"T":"900℃","x":0.123,"y":272.5},{"T":"900℃","x":0.164,"y":281},{"T":"900℃","x":0.204,"y":285.5},{"T":"900℃","x":0.245,"y":284.5},{"T":"900℃","x":0.286,"y":283},{"T":"900℃","x":0.325,"y":282.5},{"T":"900℃","x":0.365,"y":282},{"T":"900℃","x":0.405,"y":281.5},{"T":"900℃","x":0.446,"y":280},{"T":"900℃","x":0.486,"y":278},{"T":"900℃","x":0.526,"y":276.5},{"T":"900℃","x":0.567,"y":275.5},{"T":"900℃","x":0.607,"y":274.5},{"T":"900℃","x":0.647,"y":273.5},{"T":"900℃","x":0.687,"y":273},{"T":"900℃","x":0.7,"y":273},
      {"T":"950℃","x":0,"y":5},{"T":"950℃","x":0.006,"y":60},{"T":"950℃","x":0.016,"y":128.5},{"T":"950℃","x":0.03,"y":148},{"T":"950℃","x":0.04,"y":156},{"T":"950℃","x":0.057,"y":165.5},{"T":"950℃","x":0.097,"y":182},{"T":"950℃","x":0.138,"y":196},{"T":"950℃","x":0.178,"y":206.5},{"T":"950℃","x":0.218,"y":210},{"T":"950℃","x":0.258,"y":210.5},{"T":"950℃","x":0.299,"y":211},{"T":"950℃","x":0.339,"y":212},{"T":"950℃","x":0.379,"y":212.5},{"T":"950℃","x":0.419,"y":212},{"T":"950℃","x":0.459,"y":211},{"T":"950℃","x":0.5,"y":211},{"T":"950℃","x":0.54,"y":209.5},{"T":"950℃","x":0.58,"y":208.5},{"T":"950℃","x":0.62,"y":207.5},{"T":"950℃","x":0.66,"y":206},{"T":"950℃","x":0.7,"y":205},
      {"T":"1000℃","x":0,"y":3},{"T":"1000℃","x":0.008,"y":70},{"T":"1000℃","x":0.021,"y":114.5},{"T":"1000℃","x":0.035,"y":124},{"T":"1000℃","x":0.062,"y":136},{"T":"1000℃","x":0.101,"y":150.5},{"T":"1000℃","x":0.142,"y":161},{"T":"1000℃","x":0.182,"y":166},{"T":"1000℃","x":0.223,"y":168.5},{"T":"1000℃","x":0.263,"y":171},{"T":"1000℃","x":0.303,"y":172},{"T":"1000℃","x":0.343,"y":172.5},{"T":"1000℃","x":0.384,"y":172.5},{"T":"1000℃","x":0.424,"y":171.5},{"T":"1000℃","x":0.464,"y":170},{"T":"1000℃","x":0.504,"y":168.5},{"T":"1000℃","x":0.545,"y":167},{"T":"1000℃","x":0.585,"y":165},{"T":"1000℃","x":0.625,"y":164},{"T":"1000℃","x":0.665,"y":162.5},{"T":"1000℃","x":0.7,"y":162},
      {"T":"1050℃","x":0,"y":0},{"T":"1050℃","x":0.006,"y":50},{"T":"1050℃","x":0.014,"y":87.5},{"T":"1050℃","x":0.03,"y":97},{"T":"1050℃","x":0.055,"y":107.5},{"T":"1050℃","x":0.095,"y":119.5},{"T":"1050℃","x":0.135,"y":127.5},{"T":"1050℃","x":0.175,"y":133},{"T":"1050℃","x":0.216,"y":135},{"T":"1050℃","x":0.256,"y":135},{"T":"1050℃","x":0.296,"y":135},{"T":"1050℃","x":0.336,"y":135},{"T":"1050℃","x":0.377,"y":135},{"T":"1050℃","x":0.417,"y":134},{"T":"1050℃","x":0.457,"y":133.5},{"T":"1050℃","x":0.497,"y":132.5},{"T":"1050℃","x":0.538,"y":131},{"T":"1050℃","x":0.578,"y":129},{"T":"1050℃","x":0.618,"y":127},{"T":"1050℃","x":0.658,"y":126},{"T":"1050℃","x":0.699,"y":124},
      {"T":"1100℃","x":0,"y":5.5},{"T":"1100℃","x":0.006,"y":50},{"T":"1100℃","x":0.017,"y":68.5},{"T":"1100℃","x":0.03,"y":73},{"T":"1100℃","x":0.058,"y":81},{"T":"1100℃","x":0.098,"y":89},{"T":"1100℃","x":0.138,"y":94.5},{"T":"1100℃","x":0.179,"y":98},{"T":"1100℃","x":0.219,"y":100},{"T":"1100℃","x":0.259,"y":100},{"T":"1100℃","x":0.3,"y":100},{"T":"1100℃","x":0.34,"y":100},{"T":"1100℃","x":0.38,"y":100.5},{"T":"1100℃","x":0.42,"y":100},{"T":"1100℃","x":0.46,"y":99.5},{"T":"1100℃","x":0.501,"y":99},{"T":"1100℃","x":0.541,"y":98},{"T":"1100℃","x":0.581,"y":97.5},{"T":"1100℃","x":0.621,"y":97},{"T":"1100℃","x":0.662,"y":97},{"T":"1100℃","x":0.685,"y":96},{"T":"1100℃","x":0.7,"y":92}
    ],
    "d_p": [
      {"T":"850℃","x":0.001,"y":12.5},{"T":"850℃","x":0.015,"y":179},{"T":"850℃","x":0.046,"y":284},{"T":"850℃","x":0.084,"y":330},{"T":"850℃","x":0.123,"y":355.5},{"T":"850℃","x":0.164,"y":370.5},{"T":"850℃","x":0.206,"y":379.5},{"T":"850℃","x":0.247,"y":385},{"T":"850℃","x":0.289,"y":389},{"T":"850℃","x":0.331,"y":392},{"T":"850℃","x":0.372,"y":394.5},{"T":"850℃","x":0.414,"y":396},{"T":"850℃","x":0.455,"y":396.5},{"T":"850℃","x":0.496,"y":396},{"T":"850℃","x":0.538,"y":395},{"T":"850℃","x":0.579,"y":394},{"T":"850℃","x":0.62,"y":392},{"T":"850℃","x":0.662,"y":389.5},
      {"T":"900℃","x":0,"y":4},{"T":"900℃","x":0.009,"y":108.5},{"T":"900℃","x":0.038,"y":264.5},{"T":"900℃","x":0.073,"y":307},{"T":"900℃","x":0.112,"y":325},{"T":"900℃","x":0.153,"y":333.5},{"T":"900℃","x":0.194,"y":337.5},{"T":"900℃","x":0.236,"y":340},{"T":"900℃","x":0.277,"y":341.5},{"T":"900℃","x":0.319,"y":342},{"T":"900℃","x":0.36,"y":343},{"T":"900℃","x":0.402,"y":342},{"T":"900℃","x":0.443,"y":340},{"T":"900℃","x":0.484,"y":338},{"T":"900℃","x":0.525,"y":335.5},{"T":"900℃","x":0.567,"y":333},{"T":"900℃","x":0.608,"y":330},{"T":"900℃","x":0.649,"y":328},
      {"T":"950℃","x":0.002,"y":27},{"T":"950℃","x":0.023,"y":163},{"T":"950℃","x":0.056,"y":221.5},{"T":"950℃","x":0.093,"y":253.5},{"T":"950℃","x":0.133,"y":269.5},{"T":"950℃","x":0.174,"y":279.5},{"T":"950℃","x":0.215,"y":286},{"T":"950℃","x":0.258,"y":290.5},{"T":"950℃","x":0.298,"y":292.5},{"T":"950℃","x":0.341,"y":294},{"T":"950℃","x":0.382,"y":295.5},{"T":"950℃","x":0.423,"y":295.5},{"T":"950℃","x":0.464,"y":295.5},{"T":"950℃","x":0.505,"y":294},{"T":"950℃","x":0.547,"y":293},{"T":"950℃","x":0.588,"y":292},{"T":"950℃","x":0.63,"y":291},{"T":"950℃","x":0.67,"y":289.5},
      {"T":"1000℃","x":0.003,"y":32.5},{"T":"1000℃","x":0.024,"y":155.5},{"T":"1000℃","x":0.058,"y":189},{"T":"1000℃","x":0.096,"y":209},{"T":"1000℃","x":0.137,"y":220},{"T":"1000℃","x":0.178,"y":225.5},{"T":"1000℃","x":0.219,"y":230.5},{"T":"1000℃","x":0.261,"y":233.5},{"T":"1000℃","x":0.302,"y":235.5},{"T":"1000℃","x":0.343,"y":237},{"T":"1000℃","x":0.384,"y":237.5},{"T":"1000℃","x":0.426,"y":237.5},{"T":"1000℃","x":0.467,"y":237.5},{"T":"1000℃","x":0.509,"y":237},{"T":"1000℃","x":0.55,"y":236.5},{"T":"1000℃","x":0.592,"y":235.5},{"T":"1000℃","x":0.633,"y":235},{"T":"1000℃","x":0.674,"y":233.5},
      {"T":"1050℃","x":0.003,"y":42},{"T":"1050℃","x":0.026,"y":126.5},{"T":"1050℃","x":0.06,"y":150.5},{"T":"1050℃","x":0.098,"y":165.5},{"T":"1050℃","x":0.138,"y":174},{"T":"1050℃","x":0.179,"y":179.5},{"T":"1050℃","x":0.221,"y":183.5},{"T":"1050℃","x":0.263,"y":186},{"T":"1050℃","x":0.304,"y":187},{"T":"1050℃","x":0.345,"y":188},{"T":"1050℃","x":0.387,"y":188},{"T":"1050℃","x":0.428,"y":188.5},{"T":"1050℃","x":0.47,"y":188.5},{"T":"1050℃","x":0.511,"y":187.5},{"T":"1050℃","x":0.552,"y":187},{"T":"1050℃","x":0.593,"y":187},{"T":"1050℃","x":0.635,"y":186.5},{"T":"1050℃","x":0.674,"y":186.5},
      {"T":"1100℃","x":0.001,"y":8},{"T":"1100℃","x":0.012,"y":85},{"T":"1100℃","x":0.041,"y":106.5},{"T":"1100℃","x":0.078,"y":119},{"T":"1100℃","x":0.118,"y":126},{"T":"1100℃","x":0.158,"y":129},{"T":"1100℃","x":0.199,"y":130.5},{"T":"1100℃","x":0.241,"y":132.5},{"T":"1100℃","x":0.281,"y":133.5},{"T":"1100℃","x":0.325,"y":134},{"T":"1100℃","x":0.364,"y":135.5},{"T":"1100℃","x":0.406,"y":135.5},{"T":"1100℃","x":0.447,"y":136},{"T":"1100℃","x":0.489,"y":136},{"T":"1100℃","x":0.531,"y":135.5},{"T":"1100℃","x":0.571,"y":135.5},{"T":"1100℃","x":0.613,"y":135.5},{"T":"1100℃","x":0.654,"y":135.5}
    ],
    "d_l": [
      {"T":"850℃","x":0.001,"y":12.5},{"T":"850℃","x":0.008,"y":90},{"T":"850℃","x":0.015,"y":179},{"T":"850℃","x":0.046,"y":284},{"T":"850℃","x":0.084,"y":330},{"T":"850℃","x":0.123,"y":355.5},{"T":"850℃","x":0.164,"y":370.5},{"T":"850℃","x":0.206,"y":379.5},{"T":"850℃","x":0.247,"y":385},{"T":"850℃","x":0.289,"y":389},{"T":"850℃","x":0.331,"y":392},{"T":"850℃","x":0.372,"y":394.5},{"T":"850℃","x":0.414,"y":396},{"T":"850℃","x":0.455,"y":396.5},{"T":"850℃","x":0.496,"y":396},{"T":"850℃","x":0.538,"y":395},{"T":"850℃","x":0.579,"y":394},{"T":"850℃","x":0.62,"y":392},{"T":"850℃","x":0.662,"y":389.5},{"T":"850℃","x":0.682,"y":389},
      {"T":"900℃","x":0,"y":4},{"T":"900℃","x":0.009,"y":108.5},{"T":"900℃","x":0.02,"y":195},{"T":"900℃","x":0.038,"y":264.5},{"T":"900℃","x":0.073,"y":307},{"T":"900℃","x":0.112,"y":325},{"T":"900℃","x":0.153,"y":333.5},{"T":"900℃","x":0.194,"y":337.5},{"T":"900℃","x":0.236,"y":340},{"T":"900℃","x":0.277,"y":341.5},{"T":"900℃","x":0.319,"y":342},{"T":"900℃","x":0.36,"y":343},{"T":"900℃","x":0.402,"y":342},{"T":"900℃","x":0.443,"y":340},{"T":"900℃","x":0.484,"y":338},{"T":"900℃","x":0.525,"y":335.5},{"T":"900℃","x":0.567,"y":333},{"T":"900℃","x":0.608,"y":330},{"T":"900℃","x":0.649,"y":328},{"T":"900℃","x":0.682,"y":326.5},
      {"T":"950℃","x":0.002,"y":27},{"T":"950℃","x":0.01,"y":100},{"T":"950℃","x":0.023,"y":163},{"T":"950℃","x":0.056,"y":221.5},{"T":"950℃","x":0.093,"y":253.5},{"T":"950℃","x":0.133,"y":269.5},{"T":"950℃","x":0.174,"y":279.5},{"T":"950℃","x":0.215,"y":286},{"T":"950℃","x":0.258,"y":290.5},{"T":"950℃","x":0.298,"y":292.5},{"T":"950℃","x":0.341,"y":294},{"T":"950℃","x":0.382,"y":295.5},{"T":"950℃","x":0.423,"y":295.5},{"T":"950℃","x":0.464,"y":295.5},{"T":"950℃","x":0.505,"y":294},{"T":"950℃","x":0.547,"y":293},{"T":"950℃","x":0.588,"y":292},{"T":"950℃","x":0.63,"y":291},{"T":"950℃","x":0.67,"y":289.5},{"T":"950℃","x":0.682,"y":288},
      {"T":"1000℃","x":0.003,"y":32.5},{"T":"1000℃","x":0.012,"y":110},{"T":"1000℃","x":0.024,"y":155.5},{"T":"1000℃","x":0.058,"y":189},{"T":"1000℃","x":0.096,"y":209},{"T":"1000℃","x":0.137,"y":220},{"T":"1000℃","x":0.178,"y":225.5},{"T":"1000℃","x":0.219,"y":230.5},{"T":"1000℃","x":0.261,"y":233.5},{"T":"1000℃","x":0.302,"y":235.5},{"T":"1000℃","x":0.343,"y":237},{"T":"1000℃","x":0.384,"y":237.5},{"T":"1000℃","x":0.426,"y":237.5},{"T":"1000℃","x":0.467,"y":237.5},{"T":"1000℃","x":0.509,"y":237},{"T":"1000℃","x":0.55,"y":236.5},{"T":"1000℃","x":0.592,"y":235.5},{"T":"1000℃","x":0.633,"y":235},{"T":"1000℃","x":0.674,"y":233.5},{"T":"1000℃","x":0.682,"y":234.5},
      {"T":"1050℃","x":0.003,"y":42},{"T":"1050℃","x":0.012,"y":95},{"T":"1050℃","x":0.026,"y":126.5},{"T":"1050℃","x":0.06,"y":150.5},{"T":"1050℃","x":0.098,"y":165.5},{"T":"1050℃","x":0.138,"y":174},{"T":"1050℃","x":0.179,"y":179.5},{"T":"1050℃","x":0.221,"y":183.5},{"T":"1050℃","x":0.263,"y":186},{"T":"1050℃","x":0.304,"y":187},{"T":"1050℃","x":0.345,"y":188},{"T":"1050℃","x":0.387,"y":188},{"T":"1050℃","x":0.428,"y":188.5},{"T":"1050℃","x":0.47,"y":188.5},{"T":"1050℃","x":0.511,"y":187.5},{"T":"1050℃","x":0.552,"y":187},{"T":"1050℃","x":0.593,"y":187},{"T":"1050℃","x":0.635,"y":186.5},{"T":"1050℃","x":0.674,"y":186.5},{"T":"1050℃","x":0.682,"y":186.5},
      {"T":"1100℃","x":0.001,"y":8},{"T":"1100℃","x":0.005,"y":55},{"T":"1100℃","x":0.012,"y":85},{"T":"1100℃","x":0.041,"y":106.5},{"T":"1100℃","x":0.078,"y":119},{"T":"1100℃","x":0.118,"y":126},{"T":"1100℃","x":0.158,"y":129},{"T":"1100℃","x":0.199,"y":130.5},{"T":"1100℃","x":0.241,"y":132.5},{"T":"1100℃","x":0.281,"y":133.5},{"T":"1100℃","x":0.325,"y":134},{"T":"1100℃","x":0.364,"y":135.5},{"T":"1100℃","x":0.406,"y":135.5},{"T":"1100℃","x":0.447,"y":136},{"T":"1100℃","x":0.489,"y":136},{"T":"1100℃","x":0.531,"y":135.5},{"T":"1100℃","x":0.571,"y":135.5},{"T":"1100℃","x":0.613,"y":135.5},{"T":"1100℃","x":0.654,"y":135.5},{"T":"1100℃","x":0.682,"y":136}
    ],
    "e_p": [
      {"T":"850℃","x":0,"y":21.5},{"T":"850℃","x":0.023,"y":287},{"T":"850℃","x":0.06,"y":385.5},{"T":"850℃","x":0.102,"y":420.5},{"T":"850℃","x":0.138,"y":439},{"T":"850℃","x":0.179,"y":449},{"T":"850℃","x":0.222,"y":454},{"T":"850℃","x":0.266,"y":459.5},{"T":"850℃","x":0.312,"y":461},{"T":"850℃","x":0.362,"y":462},{"T":"850℃","x":0.414,"y":460},{"T":"850℃","x":0.468,"y":454.5},{"T":"850℃","x":0.526,"y":448.5},{"T":"850℃","x":0.587,"y":442},
      {"T":"900℃","x":0,"y":3.5},{"T":"900℃","x":0.007,"y":180.5},{"T":"900℃","x":0.041,"y":275},{"T":"900℃","x":0.081,"y":329},{"T":"900℃","x":0.118,"y":362},{"T":"900℃","x":0.156,"y":383.5},{"T":"900℃","x":0.199,"y":399.5},{"T":"900℃","x":0.241,"y":410},{"T":"900℃","x":0.287,"y":420},{"T":"900℃","x":0.333,"y":426.5},{"T":"900℃","x":0.382,"y":429.5},{"T":"900℃","x":0.435,"y":431},{"T":"900℃","x":0.491,"y":432},{"T":"900℃","x":0.549,"y":432.5},{"T":"900℃","x":0.611,"y":432.5},
      {"T":"950℃","x":0,"y":67.5},{"T":"950℃","x":0.02,"y":183},{"T":"950℃","x":0.059,"y":253.5},{"T":"950℃","x":0.098,"y":292.5},{"T":"950℃","x":0.135,"y":317},{"T":"950℃","x":0.178,"y":334.5},{"T":"950℃","x":0.217,"y":346.5},{"T":"950℃","x":0.263,"y":353},{"T":"950℃","x":0.309,"y":354.5},{"T":"950℃","x":0.356,"y":360},{"T":"950℃","x":0.407,"y":364},{"T":"950℃","x":0.461,"y":364},{"T":"950℃","x":0.517,"y":363},{"T":"950℃","x":0.579,"y":363},{"T":"950℃","x":0.642,"y":360},
      {"T":"1000℃","x":0,"y":6},{"T":"1000℃","x":0.02,"y":179.5},{"T":"1000℃","x":0.06,"y":224},{"T":"1000℃","x":0.099,"y":248},{"T":"1000℃","x":0.137,"y":260},{"T":"1000℃","x":0.178,"y":269},{"T":"1000℃","x":0.219,"y":276.5},{"T":"1000℃","x":0.265,"y":281.5},{"T":"1000℃","x":0.311,"y":284.5},{"T":"1000℃","x":0.36,"y":288},{"T":"1000℃","x":0.411,"y":289.5},{"T":"1000℃","x":0.466,"y":292},{"T":"1000℃","x":0.522,"y":294.5},{"T":"1000℃","x":0.583,"y":297},{"T":"1000℃","x":0.646,"y":298.5},
      {"T":"1050℃","x":0,"y":12},{"T":"1050℃","x":0.002,"y":105},{"T":"1050℃","x":0.034,"y":182},{"T":"1050℃","x":0.072,"y":209.5},{"T":"1050℃","x":0.11,"y":225},{"T":"1050℃","x":0.149,"y":234},{"T":"1050℃","x":0.192,"y":241},{"T":"1050℃","x":0.235,"y":245.5},{"T":"1050℃","x":0.28,"y":248.5},{"T":"1050℃","x":0.328,"y":252},{"T":"1050℃","x":0.377,"y":253.5},{"T":"1050℃","x":0.43,"y":255},{"T":"1050℃","x":0.484,"y":257},{"T":"1050℃","x":0.544,"y":259},{"T":"1050℃","x":0.605,"y":261},
      {"T":"1100℃","x":0,"y":6},{"T":"1100℃","x":0.002,"y":94.5},{"T":"1100℃","x":0.031,"y":152.5},{"T":"1100℃","x":0.071,"y":167.5},{"T":"1100℃","x":0.109,"y":177},{"T":"1100℃","x":0.149,"y":183},{"T":"1100℃","x":0.192,"y":187},{"T":"1100℃","x":0.233,"y":189.5},{"T":"1100℃","x":0.28,"y":193},{"T":"1100℃","x":0.327,"y":194},{"T":"1100℃","x":0.376,"y":195},{"T":"1100℃","x":0.429,"y":196},{"T":"1100℃","x":0.483,"y":197},{"T":"1100℃","x":0.541,"y":198},{"T":"1100℃","x":0.602,"y":199}
    ],
    "e_l": [
      {"T":"850℃","x":0,"y":21.5},{"T":"850℃","x":0.008,"y":150},{"T":"850℃","x":0.014,"y":225},{"T":"850℃","x":0.023,"y":287},{"T":"850℃","x":0.04,"y":350},{"T":"850℃","x":0.06,"y":385.5},{"T":"850℃","x":0.102,"y":420.5},{"T":"850℃","x":0.138,"y":439},{"T":"850℃","x":0.179,"y":449},{"T":"850℃","x":0.222,"y":454},{"T":"850℃","x":0.266,"y":459.5},{"T":"850℃","x":0.312,"y":461},{"T":"850℃","x":0.362,"y":462},{"T":"850℃","x":0.414,"y":460},{"T":"850℃","x":0.468,"y":454.5},{"T":"850℃","x":0.526,"y":448.5},{"T":"850℃","x":0.587,"y":442},{"T":"850℃","x":0.639,"y":437},
      {"T":"900℃","x":0,"y":3.5},{"T":"900℃","x":0.007,"y":180.5},{"T":"900℃","x":0.02,"y":225},{"T":"900℃","x":0.041,"y":275},{"T":"900℃","x":0.081,"y":329},{"T":"900℃","x":0.118,"y":362},{"T":"900℃","x":0.156,"y":383.5},{"T":"900℃","x":0.199,"y":399.5},{"T":"900℃","x":0.241,"y":410},{"T":"900℃","x":0.287,"y":420},{"T":"900℃","x":0.333,"y":426.5},{"T":"900℃","x":0.382,"y":429.5},{"T":"900℃","x":0.435,"y":431},{"T":"900℃","x":0.491,"y":432},{"T":"900℃","x":0.549,"y":432.5},{"T":"900℃","x":0.611,"y":432.5},{"T":"900℃","x":0.639,"y":432.5},
      {"T":"950℃","x":0,"y":67.5},{"T":"950℃","x":0.008,"y":130},{"T":"950℃","x":0.02,"y":183},{"T":"950℃","x":0.04,"y":222},{"T":"950℃","x":0.059,"y":253.5},{"T":"950℃","x":0.098,"y":292.5},{"T":"950℃","x":0.135,"y":317},{"T":"950℃","x":0.178,"y":334.5},{"T":"950℃","x":0.217,"y":346.5},{"T":"950℃","x":0.263,"y":353},{"T":"950℃","x":0.309,"y":354.5},{"T":"950℃","x":0.356,"y":360},{"T":"950℃","x":0.407,"y":364},{"T":"950℃","x":0.461,"y":364},{"T":"950℃","x":0.517,"y":363},{"T":"950℃","x":0.579,"y":363},{"T":"950℃","x":0.642,"y":360},
      {"T":"1000℃","x":0,"y":6},{"T":"1000℃","x":0.008,"y":120},{"T":"1000℃","x":0.02,"y":179.5},{"T":"1000℃","x":0.04,"y":205},{"T":"1000℃","x":0.06,"y":224},{"T":"1000℃","x":0.099,"y":248},{"T":"1000℃","x":0.137,"y":260},{"T":"1000℃","x":0.178,"y":269},{"T":"1000℃","x":0.219,"y":276.5},{"T":"1000℃","x":0.265,"y":281.5},{"T":"1000℃","x":0.311,"y":284.5},{"T":"1000℃","x":0.36,"y":288},{"T":"1000℃","x":0.411,"y":289.5},{"T":"1000℃","x":0.466,"y":292},{"T":"1000℃","x":0.522,"y":294.5},{"T":"1000℃","x":0.583,"y":297},{"T":"1000℃","x":0.646,"y":298.5},{"T":"1000℃","x":0.653,"y":299},
      {"T":"1050℃","x":0,"y":12},{"T":"1050℃","x":0.002,"y":105},{"T":"1050℃","x":0.015,"y":160},{"T":"1050℃","x":0.034,"y":182},{"T":"1050℃","x":0.072,"y":209.5},{"T":"1050℃","x":0.11,"y":225},{"T":"1050℃","x":0.149,"y":234},{"T":"1050℃","x":0.192,"y":241},{"T":"1050℃","x":0.235,"y":245.5},{"T":"1050℃","x":0.28,"y":248.5},{"T":"1050℃","x":0.328,"y":252},{"T":"1050℃","x":0.377,"y":253.5},{"T":"1050℃","x":0.43,"y":255},{"T":"1050℃","x":0.484,"y":257},{"T":"1050℃","x":0.544,"y":259},{"T":"1050℃","x":0.605,"y":261},{"T":"1050℃","x":0.642,"y":262.5},
      {"T":"1100℃","x":0,"y":6},{"T":"1100℃","x":0.002,"y":94.5},{"T":"1100℃","x":0.01,"y":128},{"T":"1100℃","x":0.02,"y":143},{"T":"1100℃","x":0.031,"y":152.5},{"T":"1100℃","x":0.071,"y":167.5},{"T":"1100℃","x":0.109,"y":177},{"T":"1100℃","x":0.149,"y":183},{"T":"1100℃","x":0.192,"y":187},{"T":"1100℃","x":0.233,"y":189.5},{"T":"1100℃","x":0.28,"y":193},{"T":"1100℃","x":0.327,"y":194},{"T":"1100℃","x":0.376,"y":195},{"T":"1100℃","x":0.429,"y":196},{"T":"1100℃","x":0.483,"y":197},{"T":"1100℃","x":0.541,"y":198},{"T":"1100℃","x":0.602,"y":199},{"T":"1100℃","x":0.659,"y":200}
    ]
  },
  "spacing": 43,
  "center": true,
  "vconcat": [
    {
      "spacing": -52,
      "vconcat": [
        {
          "hconcat": [
            {
              "width": 1193, "height": 958,
              "title": {"text": "(a)", "dx": -229, "offset": -39},
              "resolve": {"scale": {"color": "independent", "shape": "independent"}},
              "layer": [
                {"data": {"values": [{}]},
                 "mark": {"type": "rect", "color": {"gradient": "linear", "x1": 0, "y1": 0, "x2": 0, "y2": 1, "stops": [{"offset": 0, "color": "#f9f4ba"}, {"offset": 0.35, "color": "#fbf8d2"}, {"offset": 0.75, "color": "#fefef6"}, {"offset": 1, "color": "#ffffff"}]}},
                 "encoding": {
                   "x": {"datum": 0, "type": "quantitative", "scale": {"domain": [0, 0.8], "nice": false, "zero": false}, "axis": {"values": [0, 0.1, 0.2, 0.3, 0.4, 0.5, 0.6, 0.7, 0.8], "format": ".1f", "title": "True strain"}},
                   "x2": {"datum": 0.8},
                   "y": {"datum": 0, "type": "quantitative", "scale": {"domain": [0, 300], "nice": false}, "axis": {"values": [0, 50, 100, 150, 200, 250, 300], "format": "d", "title": "True stress(MPa)"}},
                   "y2": {"datum": 300}
                 }},
                {"data": {"name": "a_l"},
                 "mark": {"type": "line", "interpolate": "monotone", "strokeWidth": 3.5},
                 "encoding": {
                   "x": {"field": "x", "type": "quantitative", "title": "True strain"},
                   "y": {"field": "y", "type": "quantitative", "title": "True stress(MPa)"},
                   "color": {"field": "T", "type": "nominal", "scale": {"domain": ["850℃", "900℃", "950℃", "1000℃", "1050℃", "1100℃"], "range": ["#4b4b4b", "#f23a3c", "#1d64d8", "#28a462", "#b37fdf", "#c9970f"]}, "legend": null}
                 }},
                {"data": {"name": "a_p"},
                 "mark": {"type": "point", "filled": true, "opacity": 1, "size": 484, "strokeWidth": 0},
                 "encoding": {
                   "x": {"field": "x", "type": "quantitative", "title": "True strain"},
                   "y": {"field": "y", "type": "quantitative", "title": "True stress(MPa)"},
                   "color": {"field": "T", "type": "nominal", "scale": {"domain": ["850℃", "900℃", "950℃", "1000℃", "1050℃", "1100℃"], "range": ["#4b4b4b", "#f23a3c", "#1d64d8", "#28a462", "#b37fdf", "#c9970f"]}, "legend": null},
                   "shape": {"field": "T", "type": "nominal", "scale": {"domain": ["850℃", "900℃", "950℃", "1000℃", "1050℃", "1100℃"], "range": ["M-0.95,-0.95H0.95V0.95H-0.95Z", "M1,0A1,1,0,1,1,-1,0A1,1,0,1,1,1,0Z", "M0,-1.05L1.15,0.9H-1.15Z", "M0,1.05L-1.15,-0.9H1.15Z", "M0,-1.2L0.95,0L0,1.2L-0.95,0Z", "M-1.05,0L0.9,-1.15V1.15Z"]}, "legend": null}
                 }},
                {"data": {"name": "a_p"},
                 "transform": [{"filter": "false"}],
                 "mark": {"type": "point", "filled": true, "opacity": 1},
                 "encoding": {
                   "x": {"field": "x", "type": "quantitative", "title": "True strain"},
                   "y": {"field": "y", "type": "quantitative", "title": "True stress(MPa)"},
                   "color": {"field": "T", "type": "nominal", "scale": {"domain": ["850℃", "900℃", "950℃", "1000℃", "1050℃", "1100℃"], "range": ["#4b4b4b", "#f23a3c", "#1d64d8", "#28a462", "#b37fdf", "#c9970f"]}, "legend": {"title": null, "orient": "none", "legendX": 396, "legendY": 72, "columns": 3, "columnPadding": 2, "rowPadding": 9}},
                   "shape": {"field": "T", "type": "nominal", "scale": {"domain": ["850℃", "900℃", "950℃", "1000℃", "1050℃", "1100℃"], "range": ["M-4.2,-0.17H4.2V0.17H-4.2ZM-0.95,-0.95H0.95V0.95H-0.95Z", "M-4.2,-0.17H4.2V0.17H-4.2ZM1,0A1,1,0,1,1,-1,0A1,1,0,1,1,1,0Z", "M-4.2,-0.17H4.2V0.17H-4.2ZM0,-1.05L1.15,0.9H-1.15Z", "M-4.2,-0.17H4.2V0.17H-4.2ZM0,1.05L-1.15,-0.9H1.15Z", "M-4.2,-0.17H4.2V0.17H-4.2ZM0,-1.2L0.95,0L0,1.2L-0.95,0Z", "M-4.2,-0.17H4.2V0.17H-4.2ZM-1.05,0L0.9,-1.15V1.15Z"]}, "legend": {"title": null, "orient": "none", "legendX": 396, "legendY": 72, "columns": 3, "columnPadding": 2, "rowPadding": 9}}
                 }},
                {"data": {"values": [{}]},
                 "mark": {"type": "text", "align": "left", "baseline": "middle", "fontStyle": "italic"},
                 "encoding": {"x": {"datum": 0.052, "type": "quantitative"}, "y": {"datum": 272, "type": "quantitative"}, "text": {"value": "ε"}}},
                {"data": {"values": [{}]},
                 "mark": {"type": "text", "align": "left", "baseline": "middle", "dx": 5, "dy": -6},
                 "encoding": {"x": {"datum": 0.052, "type": "quantitative"}, "y": {"datum": 272, "type": "quantitative"}, "text": {"value": "˙"}}},
                {"data": {"values": [{}]},
                 "mark": {"type": "text", "align": "left", "baseline": "middle", "dx": 39},
                 "encoding": {"x": {"datum": 0.052, "type": "quantitative"}, "y": {"datum": 272, "type": "quantitative"}, "text": {"value": "= 0.001s⁻¹"}}}
              ]
            },
            {
              "width": 1204, "height": 969,
              "title": {"text": "(b)", "dx": -226, "offset": -36},
              "resolve": {"scale": {"color": "independent", "shape": "independent"}},
              "layer": [
                {"data": {"values": [{}]},
                 "mark": {"type": "rect", "color": {"gradient": "linear", "x1": 0, "y1": 0, "x2": 0, "y2": 1, "stops": [{"offset": 0, "color": "#f9f4ba"}, {"offset": 0.35, "color": "#fbf8d2"}, {"offset": 0.75, "color": "#fefef6"}, {"offset": 1, "color": "#ffffff"}]}},
                 "encoding": {
                   "x": {"datum": 0, "type": "quantitative", "scale": {"domain": [0, 0.8], "nice": false, "zero": false}, "axis": {"values": [0, 0.1, 0.2, 0.3, 0.4, 0.5, 0.6, 0.7, 0.8], "format": ".1f", "title": "True strain"}},
                   "x2": {"datum": 0.8},
                   "y": {"datum": 0, "type": "quantitative", "scale": {"domain": [0, 350], "nice": false}, "axis": {"values": [0, 50, 100, 150, 200, 250, 300, 350], "format": "d", "title": "True stress(MPa)"}},
                   "y2": {"datum": 350}
                 }},
                {"data": {"name": "b_l"},
                 "mark": {"type": "line", "interpolate": "monotone", "strokeWidth": 3.5},
                 "encoding": {
                   "x": {"field": "x", "type": "quantitative", "title": "True strain"},
                   "y": {"field": "y", "type": "quantitative", "title": "True stress(MPa)"},
                   "color": {"field": "T", "type": "nominal", "scale": {"domain": ["850℃", "900℃", "950℃", "1000℃", "1050℃", "1100℃"], "range": ["#4b4b4b", "#f23a3c", "#1d64d8", "#28a462", "#b37fdf", "#c9970f"]}, "legend": null}
                 }},
                {"data": {"name": "b_p"},
                 "mark": {"type": "point", "filled": true, "opacity": 1, "size": 484, "strokeWidth": 0},
                 "encoding": {
                   "x": {"field": "x", "type": "quantitative", "title": "True strain"},
                   "y": {"field": "y", "type": "quantitative", "title": "True stress(MPa)"},
                   "color": {"field": "T", "type": "nominal", "scale": {"domain": ["850℃", "900℃", "950℃", "1000℃", "1050℃", "1100℃"], "range": ["#4b4b4b", "#f23a3c", "#1d64d8", "#28a462", "#b37fdf", "#c9970f"]}, "legend": null},
                   "shape": {"field": "T", "type": "nominal", "scale": {"domain": ["850℃", "900℃", "950℃", "1000℃", "1050℃", "1100℃"], "range": ["M-0.95,-0.95H0.95V0.95H-0.95Z", "M1,0A1,1,0,1,1,-1,0A1,1,0,1,1,1,0Z", "M0,-1.05L1.15,0.9H-1.15Z", "M0,1.05L-1.15,-0.9H1.15Z", "M0,-1.2L0.95,0L0,1.2L-0.95,0Z", "M-1.05,0L0.9,-1.15V1.15Z"]}, "legend": null}
                 }},
                {"data": {"name": "b_p"},
                 "transform": [{"filter": "false"}],
                 "mark": {"type": "point", "filled": true, "opacity": 1},
                 "encoding": {
                   "x": {"field": "x", "type": "quantitative", "title": "True strain"},
                   "y": {"field": "y", "type": "quantitative", "title": "True stress(MPa)"},
                   "color": {"field": "T", "type": "nominal", "scale": {"domain": ["850℃", "900℃", "950℃", "1000℃", "1050℃", "1100℃"], "range": ["#4b4b4b", "#f23a3c", "#1d64d8", "#28a462", "#b37fdf", "#c9970f"]}, "legend": {"title": null, "orient": "none", "legendX": 411, "legendY": 45, "columns": 3, "columnPadding": 5, "rowPadding": 7}},
                   "shape": {"field": "T", "type": "nominal", "scale": {"domain": ["850℃", "900℃", "950℃", "1000℃", "1050℃", "1100℃"], "range": ["M-4.2,-0.17H4.2V0.17H-4.2ZM-0.95,-0.95H0.95V0.95H-0.95Z", "M-4.2,-0.17H4.2V0.17H-4.2ZM1,0A1,1,0,1,1,-1,0A1,1,0,1,1,1,0Z", "M-4.2,-0.17H4.2V0.17H-4.2ZM0,-1.05L1.15,0.9H-1.15Z", "M-4.2,-0.17H4.2V0.17H-4.2ZM0,1.05L-1.15,-0.9H1.15Z", "M-4.2,-0.17H4.2V0.17H-4.2ZM0,-1.2L0.95,0L0,1.2L-0.95,0Z", "M-4.2,-0.17H4.2V0.17H-4.2ZM-1.05,0L0.9,-1.15V1.15Z"]}, "legend": {"title": null, "orient": "none", "legendX": 411, "legendY": 45, "columns": 3, "columnPadding": 5, "rowPadding": 7}}
                 }},
                {"data": {"values": [{}]},
                 "mark": {"type": "text", "align": "left", "baseline": "middle", "fontStyle": "italic"},
                 "encoding": {"x": {"datum": 0.056, "type": "quantitative"}, "y": {"datum": 322, "type": "quantitative"}, "text": {"value": "ε"}}},
                {"data": {"values": [{}]},
                 "mark": {"type": "text", "align": "left", "baseline": "middle", "dx": 5, "dy": -6},
                 "encoding": {"x": {"datum": 0.056, "type": "quantitative"}, "y": {"datum": 322, "type": "quantitative"}, "text": {"value": "˙"}}},
                {"data": {"values": [{}]},
                 "mark": {"type": "text", "align": "left", "baseline": "middle", "dx": 29},
                 "encoding": {"x": {"datum": 0.056, "type": "quantitative"}, "y": {"datum": 322, "type": "quantitative"}, "text": {"value": "=0.01s⁻¹"}}}
              ]
            }
          ],
          "spacing": 249,
          "bounds": "flush"
        },
        {
          "hconcat": [
            {
              "width": 1205, "height": 969,
              "title": {"text": "(c)", "dx": -230, "offset": -17},
              "resolve": {"scale": {"color": "independent", "shape": "independent"}},
              "layer": [
                {"data": {"values": [{}]},
                 "mark": {"type": "rect", "color": {"gradient": "linear", "x1": 0, "y1": 0, "x2": 0, "y2": 1, "stops": [{"offset": 0, "color": "#f9f4ba"}, {"offset": 0.35, "color": "#fbf8d2"}, {"offset": 0.75, "color": "#fefef6"}, {"offset": 1, "color": "#ffffff"}]}},
                 "encoding": {
                   "x": {"datum": 0, "type": "quantitative", "scale": {"domain": [0, 0.8], "nice": false, "zero": false}, "axis": {"values": [0, 0.1, 0.2, 0.3, 0.4, 0.5, 0.6, 0.7, 0.8], "format": ".1f", "title": "True strain"}},
                   "x2": {"datum": 0.8},
                   "y": {"datum": 0, "type": "quantitative", "scale": {"domain": [0, 450], "nice": false}, "axis": {"values": [0, 50, 100, 150, 200, 250, 300, 350, 400, 450], "format": "d", "title": "True stress(MPa)"}},
                   "y2": {"datum": 450}
                 }},
                {"data": {"name": "c_l"},
                 "mark": {"type": "line", "interpolate": "monotone", "strokeWidth": 3.5},
                 "encoding": {
                   "x": {"field": "x", "type": "quantitative", "title": "True strain"},
                   "y": {"field": "y", "type": "quantitative", "title": "True stress(MPa)"},
                   "color": {"field": "T", "type": "nominal", "scale": {"domain": ["850℃", "900℃", "950℃", "1000℃", "1050℃", "1100℃"], "range": ["#4b4b4b", "#f23a3c", "#1d64d8", "#28a462", "#b37fdf", "#c9970f"]}, "legend": null}
                 }},
                {"data": {"name": "c_p"},
                 "mark": {"type": "point", "filled": true, "opacity": 1, "size": 484, "strokeWidth": 0},
                 "encoding": {
                   "x": {"field": "x", "type": "quantitative", "title": "True strain"},
                   "y": {"field": "y", "type": "quantitative", "title": "True stress(MPa)"},
                   "color": {"field": "T", "type": "nominal", "scale": {"domain": ["850℃", "900℃", "950℃", "1000℃", "1050℃", "1100℃"], "range": ["#4b4b4b", "#f23a3c", "#1d64d8", "#28a462", "#b37fdf", "#c9970f"]}, "legend": null},
                   "shape": {"field": "T", "type": "nominal", "scale": {"domain": ["850℃", "900℃", "950℃", "1000℃", "1050℃", "1100℃"], "range": ["M-0.95,-0.95H0.95V0.95H-0.95Z", "M1,0A1,1,0,1,1,-1,0A1,1,0,1,1,1,0Z", "M0,-1.05L1.15,0.9H-1.15Z", "M0,1.05L-1.15,-0.9H1.15Z", "M0,-1.2L0.95,0L0,1.2L-0.95,0Z", "M-1.05,0L0.9,-1.15V1.15Z"]}, "legend": null}
                 }},
                {"data": {"name": "c_p"},
                 "transform": [{"filter": "false"}],
                 "mark": {"type": "point", "filled": true, "opacity": 1},
                 "encoding": {
                   "x": {"field": "x", "type": "quantitative", "title": "True strain"},
                   "y": {"field": "y", "type": "quantitative", "title": "True stress(MPa)"},
                   "color": {"field": "T", "type": "nominal", "scale": {"domain": ["850℃", "900℃", "950℃", "1000℃", "1050℃", "1100℃"], "range": ["#4b4b4b", "#f23a3c", "#1d64d8", "#28a462", "#b37fdf", "#c9970f"]}, "legend": {"title": null, "orient": "none", "legendX": 343, "legendY": 29, "columns": 3, "columnPadding": 5, "rowPadding": 10}},
                   "shape": {"field": "T", "type": "nominal", "scale": {"domain": ["850℃", "900℃", "950℃", "1000℃", "1050℃", "1100℃"], "range": ["M-4.2,-0.17H4.2V0.17H-4.2ZM-0.95,-0.95H0.95V0.95H-0.95Z", "M-4.2,-0.17H4.2V0.17H-4.2ZM1,0A1,1,0,1,1,-1,0A1,1,0,1,1,1,0Z", "M-4.2,-0.17H4.2V0.17H-4.2ZM0,-1.05L1.15,0.9H-1.15Z", "M-4.2,-0.17H4.2V0.17H-4.2ZM0,1.05L-1.15,-0.9H1.15Z", "M-4.2,-0.17H4.2V0.17H-4.2ZM0,-1.2L0.95,0L0,1.2L-0.95,0Z", "M-4.2,-0.17H4.2V0.17H-4.2ZM-1.05,0L0.9,-1.15V1.15Z"]}, "legend": {"title": null, "orient": "none", "legendX": 343, "legendY": 29, "columns": 3, "columnPadding": 5, "rowPadding": 10}}
                 }},
                {"data": {"values": [{}]},
                 "mark": {"type": "text", "align": "left", "baseline": "middle", "fontStyle": "italic"},
                 "encoding": {"x": {"datum": 0.048, "type": "quantitative"}, "y": {"datum": 419, "type": "quantitative"}, "text": {"value": "ε"}}},
                {"data": {"values": [{}]},
                 "mark": {"type": "text", "align": "left", "baseline": "middle", "dx": 5, "dy": -6},
                 "encoding": {"x": {"datum": 0.048, "type": "quantitative"}, "y": {"datum": 419, "type": "quantitative"}, "text": {"value": "˙"}}},
                {"data": {"values": [{}]},
                 "mark": {"type": "text", "align": "left", "baseline": "middle", "dx": 25},
                 "encoding": {"x": {"datum": 0.048, "type": "quantitative"}, "y": {"datum": 419, "type": "quantitative"}, "text": {"value": "=0.1s⁻¹"}}}
              ]
            },
            {
              "width": 1177, "height": 947,
              "title": {"text": "(d)", "dx": -238, "offset": -13},
              "resolve": {"scale": {"color": "independent", "shape": "independent"}},
              "layer": [
                {"data": {"values": [{}]},
                 "mark": {"type": "rect", "color": {"gradient": "linear", "x1": 0, "y1": 0, "x2": 0, "y2": 1, "stops": [{"offset": 0, "color": "#f9f4ba"}, {"offset": 0.35, "color": "#fbf8d2"}, {"offset": 0.75, "color": "#fefef6"}, {"offset": 1, "color": "#ffffff"}]}},
                 "encoding": {
                   "x": {"datum": 0, "type": "quantitative", "scale": {"domain": [0, 0.75], "nice": false, "zero": false}, "axis": {"values": [0, 0.1, 0.2, 0.3, 0.4, 0.5, 0.6, 0.7], "format": ".1f", "title": "True strain"}},
                   "x2": {"datum": 0.75},
                   "y": {"datum": 0, "type": "quantitative", "scale": {"domain": [0, 500], "nice": false}, "axis": {"values": [0, 100, 200, 300, 400, 500], "format": "d", "title": "True stress(MPa)", "titlePadding": 28}},
                   "y2": {"datum": 500}
                 }},
                {"data": {"name": "d_l"},
                 "mark": {"type": "line", "interpolate": "monotone", "strokeWidth": 3.5},
                 "encoding": {
                   "x": {"field": "x", "type": "quantitative", "title": "True strain"},
                   "y": {"field": "y", "type": "quantitative", "title": "True stress(MPa)"},
                   "color": {"field": "T", "type": "nominal", "scale": {"domain": ["850℃", "900℃", "950℃", "1000℃", "1050℃", "1100℃"], "range": ["#4b4b4b", "#f23a3c", "#1d64d8", "#28a462", "#b37fdf", "#c9970f"]}, "legend": null}
                 }},
                {"data": {"name": "d_p"},
                 "mark": {"type": "point", "filled": true, "opacity": 1, "size": 484, "strokeWidth": 0},
                 "encoding": {
                   "x": {"field": "x", "type": "quantitative", "title": "True strain"},
                   "y": {"field": "y", "type": "quantitative", "title": "True stress(MPa)"},
                   "color": {"field": "T", "type": "nominal", "scale": {"domain": ["850℃", "900℃", "950℃", "1000℃", "1050℃", "1100℃"], "range": ["#4b4b4b", "#f23a3c", "#1d64d8", "#28a462", "#b37fdf", "#c9970f"]}, "legend": null},
                   "shape": {"field": "T", "type": "nominal", "scale": {"domain": ["850℃", "900℃", "950℃", "1000℃", "1050℃", "1100℃"], "range": ["M-0.95,-0.95H0.95V0.95H-0.95Z", "M1,0A1,1,0,1,1,-1,0A1,1,0,1,1,1,0Z", "M0,-1.05L1.15,0.9H-1.15Z", "M0,1.05L-1.15,-0.9H1.15Z", "M-1.05,0L0.9,-1.15V1.15Z", "M0,-1.2L0.95,0L0,1.2L-0.95,0Z"]}, "legend": null}
                 }},
                {"data": {"name": "d_p"},
                 "transform": [{"filter": "false"}],
                 "mark": {"type": "point", "filled": true, "opacity": 1},
                 "encoding": {
                   "x": {"field": "x", "type": "quantitative", "title": "True strain"},
                   "y": {"field": "y", "type": "quantitative", "title": "True stress(MPa)"},
                   "color": {"field": "T", "type": "nominal", "scale": {"domain": ["850℃", "900℃", "950℃", "1000℃", "1050℃", "1100℃"], "range": ["#4b4b4b", "#f23a3c", "#1d64d8", "#28a462", "#b37fdf", "#c9970f"]}, "legend": {"title": null, "orient": "none", "legendX": 306, "legendY": 28, "columns": 3, "columnPadding": 26, "rowPadding": 11}},
                   "shape": {"field": "T", "type": "nominal", "scale": {"domain": ["850℃", "900℃", "950℃", "1000℃", "1050℃", "1100℃"], "range": ["M-4.2,-0.17H4.2V0.17H-4.2ZM-0.95,-0.95H0.95V0.95H-0.95Z", "M-4.2,-0.17H4.2V0.17H-4.2ZM1,0A1,1,0,1,1,-1,0A1,1,0,1,1,1,0Z", "M-4.2,-0.17H4.2V0.17H-4.2ZM0,-1.05L1.15,0.9H-1.15Z", "M-4.2,-0.17H4.2V0.17H-4.2ZM0,1.05L-1.15,-0.9H1.15Z", "M-4.2,-0.17H4.2V0.17H-4.2ZM-1.05,0L0.9,-1.15V1.15Z", "M-4.2,-0.17H4.2V0.17H-4.2ZM0,-1.2L0.95,0L0,1.2L-0.95,0Z"]}, "legend": {"title": null, "orient": "none", "legendX": 306, "legendY": 28, "columns": 3, "columnPadding": 26, "rowPadding": 11}}
                 }},
                {"data": {"values": [{}]},
                 "mark": {"type": "text", "align": "left", "baseline": "middle", "fontStyle": "italic"},
                 "encoding": {"x": {"datum": 0.047, "type": "quantitative"}, "y": {"datum": 462, "type": "quantitative"}, "text": {"value": "ε"}}},
                {"data": {"values": [{}]},
                 "mark": {"type": "text", "align": "left", "baseline": "middle", "dx": 5, "dy": -6},
                 "encoding": {"x": {"datum": 0.047, "type": "quantitative"}, "y": {"datum": 462, "type": "quantitative"}, "text": {"value": "˙"}}},
                {"data": {"values": [{}]},
                 "mark": {"type": "text", "align": "left", "baseline": "middle", "dx": 21},
                 "encoding": {"x": {"datum": 0.047, "type": "quantitative"}, "y": {"datum": 462, "type": "quantitative"}, "text": {"value": "=1s⁻¹"}}}
              ]
            }
          ],
          "spacing": 247,
          "bounds": "flush"
        }
      ]
    },
    {
      "width": 1181, "height": 954,
      "title": {"text": "(e)", "dx": -240, "offset": -41},
      "resolve": {"scale": {"color": "independent", "shape": "independent"}},
      "layer": [
        {"data": {"values": [{}]},
         "mark": {"type": "rect", "color": {"gradient": "linear", "x1": 0, "y1": 0, "x2": 0, "y2": 1, "stops": [{"offset": 0, "color": "#f9f4ba"}, {"offset": 0.35, "color": "#fbf8d2"}, {"offset": 0.75, "color": "#fefef6"}, {"offset": 1, "color": "#ffffff"}]}},
         "encoding": {
           "x": {"datum": 0, "type": "quantitative", "scale": {"domain": [0, 0.7], "nice": false, "zero": false}, "axis": {"values": [0, 0.1, 0.2, 0.3, 0.4, 0.5, 0.6, 0.7], "format": ".1f", "title": "True strain", "labelPadding": 42, "titlePadding": 41}},
           "x2": {"datum": 0.7},
           "y": {"datum": 0, "type": "quantitative", "scale": {"domain": [0, 600], "nice": false}, "axis": {"values": [0, 100, 200, 300, 400, 500, 600], "format": "d", "title": "True stress(MPa)", "titlePadding": 26}},
           "y2": {"datum": 600}
         }},
        {"data": {"name": "e_l"},
         "mark": {"type": "line", "interpolate": "monotone", "strokeWidth": 3.5},
         "encoding": {
           "x": {"field": "x", "type": "quantitative", "title": "True strain"},
           "y": {"field": "y", "type": "quantitative", "title": "True stress(MPa)"},
           "color": {"field": "T", "type": "nominal", "scale": {"domain": ["850℃", "900℃", "950℃", "1000℃", "1050℃", "1100℃"], "range": ["#4b4b4b", "#f23a3c", "#1d64d8", "#28a462", "#b37fdf", "#c9970f"]}, "legend": null}
         }},
        {"data": {"name": "e_p"},
         "mark": {"type": "point", "filled": true, "opacity": 1, "size": 484, "strokeWidth": 0},
         "encoding": {
           "x": {"field": "x", "type": "quantitative", "title": "True strain"},
           "y": {"field": "y", "type": "quantitative", "title": "True stress(MPa)"},
           "color": {"field": "T", "type": "nominal", "scale": {"domain": ["850℃", "900℃", "950℃", "1000℃", "1050℃", "1100℃"], "range": ["#4b4b4b", "#f23a3c", "#1d64d8", "#28a462", "#b37fdf", "#c9970f"]}, "legend": null},
           "shape": {"field": "T", "type": "nominal", "scale": {"domain": ["850℃", "900℃", "950℃", "1000℃", "1050℃", "1100℃"], "range": ["M-0.95,-0.95H0.95V0.95H-0.95Z", "M1,0A1,1,0,1,1,-1,0A1,1,0,1,1,1,0Z", "M0,-1.05L1.15,0.9H-1.15Z", "M0,1.05L-1.15,-0.9H1.15Z", "M0,-1.2L0.95,0L0,1.2L-0.95,0Z", "M-1.05,0L0.9,-1.15V1.15Z"]}, "legend": null}
         }},
        {"data": {"name": "e_p"},
         "transform": [{"filter": "false"}],
         "mark": {"type": "point", "filled": true, "opacity": 1},
         "encoding": {
           "x": {"field": "x", "type": "quantitative", "title": "True strain"},
           "y": {"field": "y", "type": "quantitative", "title": "True stress(MPa)"},
           "color": {"field": "T", "type": "nominal", "scale": {"domain": ["850℃", "900℃", "950℃", "1000℃", "1050℃", "1100℃"], "range": ["#4b4b4b", "#f23a3c", "#1d64d8", "#28a462", "#b37fdf", "#c9970f"]}, "legend": {"title": null, "orient": "none", "legendX": 329, "legendY": 37, "columns": 3, "columnPadding": 27, "rowPadding": 14}},
           "shape": {"field": "T", "type": "nominal", "scale": {"domain": ["850℃", "900℃", "950℃", "1000℃", "1050℃", "1100℃"], "range": ["M-4.2,-0.17H4.2V0.17H-4.2ZM-0.95,-0.95H0.95V0.95H-0.95Z", "M-4.2,-0.17H4.2V0.17H-4.2ZM1,0A1,1,0,1,1,-1,0A1,1,0,1,1,1,0Z", "M-4.2,-0.17H4.2V0.17H-4.2ZM0,-1.05L1.15,0.9H-1.15Z", "M-4.2,-0.17H4.2V0.17H-4.2ZM0,1.05L-1.15,-0.9H1.15Z", "M-4.2,-0.17H4.2V0.17H-4.2ZM0,-1.2L0.95,0L0,1.2L-0.95,0Z", "M-4.2,-0.17H4.2V0.17H-4.2ZM-1.05,0L0.9,-1.15V1.15Z"]}, "legend": {"title": null, "orient": "none", "legendX": 329, "legendY": 37, "columns": 3, "columnPadding": 27, "rowPadding": 14}}
         }},
        {"data": {"values": [{}]},
         "mark": {"type": "text", "align": "left", "baseline": "middle", "fontStyle": "italic"},
         "encoding": {"x": {"datum": 0.046, "type": "quantitative"}, "y": {"datum": 560, "type": "quantitative"}, "text": {"value": "ε"}}},
        {"data": {"values": [{}]},
         "mark": {"type": "text", "align": "left", "baseline": "middle", "dx": 5, "dy": -6},
         "encoding": {"x": {"datum": 0.046, "type": "quantitative"}, "y": {"datum": 560, "type": "quantitative"}, "text": {"value": "˙"}}},
        {"data": {"values": [{}]},
         "mark": {"type": "text", "align": "left", "baseline": "middle", "dx": 30},
         "encoding": {"x": {"datum": 0.046, "type": "quantitative"}, "y": {"datum": 560, "type": "quantitative"}, "text": {"value": "=10s⁻¹"}}}
      ]
    }
  ]
}
